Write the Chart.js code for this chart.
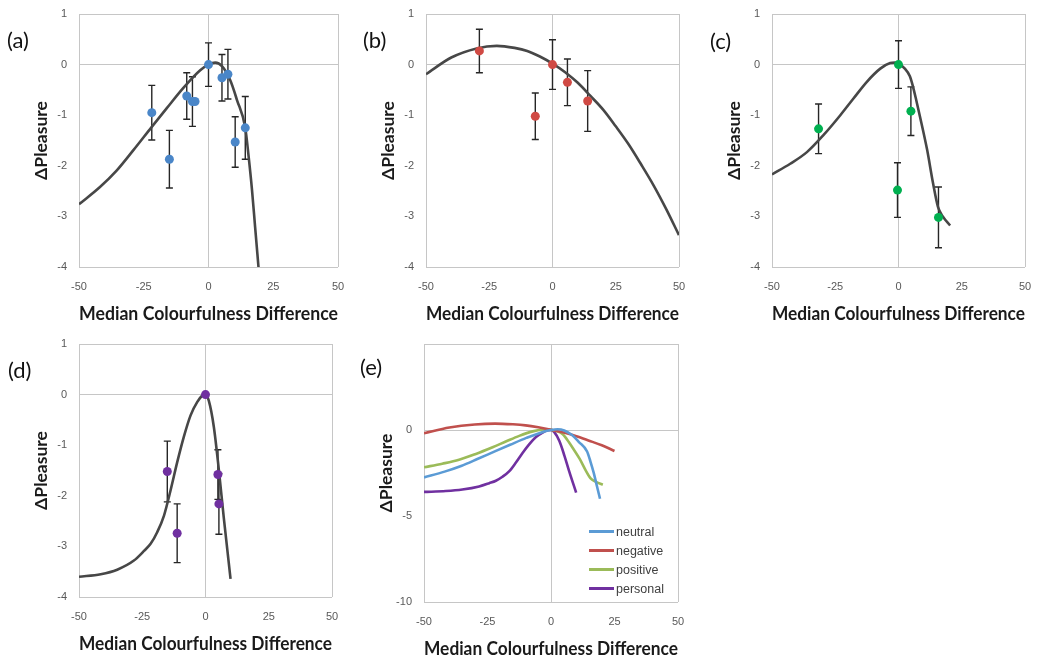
<!DOCTYPE html>
<html>
<head>
<meta charset="utf-8">
<script src="https://cdn.jsdelivr.net/npm/chart.js@4.4.1/dist/chart.umd.min.js"></script>
<style>
  html, body { margin: 0; padding: 0; background: #fff; }
  #wrap { position: relative; width: 1037px; height: 660px; overflow: hidden; background: #fff; }
  canvas { position: absolute; }
  .lab { position: absolute; font-family: 'Lato', 'Liberation Sans', sans-serif; font-size: 22px; line-height: 22px; color: #111; }
  .leg { position: absolute; font-family: 'Liberation Sans', sans-serif; font-size: 12.5px; line-height: 14px; color: #404040; white-space: nowrap; }
  .leg span.ln { display: inline-block; width: 25px; height: 2.5px; vertical-align: middle; margin-right: 2px; position: relative; top: -1px; }
</style>
</head>
<body>
<div id="wrap">
  <canvas id="ca" width="345" height="330" style="left:0px;top:0px"></canvas>
  <canvas id="cb" width="339" height="330" style="left:347px;top:0px"></canvas>
  <canvas id="cc" width="339" height="330" style="left:693px;top:0px"></canvas>
  <canvas id="cd" width="339" height="330" style="left:0px;top:330px"></canvas>
  <canvas id="ce" width="340" height="335" style="left:345px;top:330px"></canvas>
</div>
<script>
// ---------- text ----------
const panelLabels = ['(a)', '(b)', '(c)', '(d)', '(e)'];
const xTitle = 'Median Colourfulness Difference';
const yTitle = 'ΔPleasure';

// ---------- tick settings ----------
const xMin = -50, xMax = 50, xStep = 25;
const yMinSmall = -4, yMaxSmall = 1, yStepSmall = 1;
const yMinE = -10, yMaxE = 5, yStepE = 5;

// ---------- (a) neutral ----------
const aPointX = [-21.9, -15.1, -8.4, -6.2, -5.2, 0, 5.2, 7.5, 10.3, 14.2];
const aPointY = [-0.95, -1.87, -0.62, -0.73, -0.73, 0, -0.26, -0.19, -1.53, -1.25];
const aPointErr = [0.54, 0.57, 0.46, 0.49, 0, 0.43, 0.46, 0.49, 0.50, 0.62];
const aCurveX = [-50, -41.9, -35.4, -29, -21.9, -16.1, -9.7, -3.2, 0, 2.6, 5.2, 8.4, 11, 14.2, 15.5, 16.8, 18.0, 19.3];
const aCurveY = [-2.76, -2.42, -2.09, -1.69, -1.23, -0.86, -0.46, -0.11, 0, 0.04, -0.03, -0.31, -0.70, -1.25, -1.82, -2.48, -3.21, -4.0];

// ---------- (b) negative ----------
const bPointX = [-28.9, -6.8, 0, 5.9, 13.9];
const bPointY = [0.27, -1.02, 0, -0.35, -0.72];
const bPointErr = [0.43, 0.46, 0.49, 0.46, 0.60];
const bCurveX = [-50, -40, -30, -22, -15, -10, -5, 0, 5, 10, 15, 20, 25, 30, 35, 40, 45, 50];
const bCurveY = [-0.19, 0.14, 0.32, 0.37, 0.33, 0.27, 0.16, 0.02, -0.15, -0.36, -0.62, -0.89, -1.22, -1.57, -1.97, -2.39, -2.86, -3.37];

// ---------- (c) positive ----------
const cPointX = [-31.6, -0.4, 0, 4.9, 15.8];
const cPointY = [-1.27, -2.48, 0, -0.92, -3.02];
const cPointErr = [0.49, 0.54, 0.47, 0.48, 0.60];
const cCurveX = [-50, -42.8, -36.2, -29.6, -23, -17.8, -12.5, -7.2, -3.3, -1.4, 0, 2.5, 4.5, 5.7, 7, 8.5, 11.3, 13.6, 15.6, 17.5, 20.4];
const cCurveY = [-2.17, -1.96, -1.73, -1.39, -1.0, -0.67, -0.34, -0.08, 0.03, 0.04, 0.02, -0.08, -0.23, -0.43, -0.70, -1.03, -1.68, -2.33, -2.81, -3.00, -3.18];

// ---------- (d) personal ----------
const dPointX = [-15.1, -11.2, 0, 4.9, 5.3];
const dPointY = [-1.52, -2.74, 0, -1.58, -2.16];
const dPointErr = [0.60, 0.58, 0, 0.49, 0.60];
const dCurveX = [-50, -41.4, -34.9, -28.3, -24.3, -21.7, -19.1, -16.4, -13.8, -11.2, -8.6, -5.9, -3.3, -1.3, 0, 1.3, 3.3, 5.3, 7.2, 9.9];
const dCurveY = [-3.6, -3.55, -3.46, -3.28, -3.09, -2.95, -2.72, -2.39, -1.89, -1.34, -0.84, -0.41, -0.15, -0.02, 0, -0.12, -0.64, -1.5, -2.42, -3.64];

// ---------- (e) all models ----------
const eSeriesNames = ['neutral', 'negative', 'positive', 'personal'];
const eSeriesColors = ['#5b9bd5', '#c0504d', '#9bbb59', '#7030a0'];
const eNegativeMaxX = 25;

// ---------- colours ----------
const pointColors = ['#4a86c8', '#d04a44', '#00b050', '#7030a0'];
const curveColor = '#474747';

// ---------- helpers ----------
const zip = (xs, ys) => xs.map((x, i) => ({ x: x, y: ys[i] }));

const errorBars = {
  id: 'errorBars',
  beforeDatasetsDraw(chart) {
    const ctx = chart.ctx, xs = chart.scales.x, ys = chart.scales.y;
    chart.data.datasets.forEach(ds => {
      if (!ds.errors) return;
      ctx.save();
      ctx.strokeStyle = '#262626';
      ctx.lineWidth = 1.4;
      ds.data.forEach((p, i) => {
        const e = ds.errors[i];
        if (!e) return;
        const px = xs.getPixelForValue(p.x);
        const t = ys.getPixelForValue(p.y + e);
        const b = ys.getPixelForValue(p.y - e);
        ctx.beginPath();
        ctx.moveTo(px, t); ctx.lineTo(px, b);
        ctx.moveTo(px - 3.5, t); ctx.lineTo(px + 3.5, t);
        ctx.moveTo(px - 3.5, b); ctx.lineTo(px + 3.5, b);
        ctx.stroke();
      });
      ctx.restore();
    });
  }
};

function gridColor(min, max) {
  return (c) => {
    const v = c.tick ? c.tick.value : null;
    return (v === 0 || v === min || v === max) ? '#c6c6c6' : 'rgba(0,0,0,0)';
  };
}

function makeScales(yMin, yMax, yStep, hideTop) {
  return {
    x: {
      type: 'linear', min: xMin, max: xMax,
      ticks: { stepSize: xStep, padding: 0, color: '#595959', font: { family: 'Liberation Sans', size: 11 } },
      grid: { drawTicks: true, tickLength: 13, tickColor: 'rgba(0,0,0,0)', color: gridColor(xMin, xMax), lineWidth: 1 },
      border: { display: false },
      title: { display: true, text: xTitle, color: '#1a1a1a', font: { family: 'Lato', weight: 'bold', size: 18 }, padding: { top: 0, bottom: 5 } },
      afterFit(s) { s.height = 63; }
    },
    y: {
      type: 'linear', min: yMin, max: yMax,
      ticks: {
        stepSize: yStep, padding: 0, color: '#595959', font: { family: 'Liberation Sans', size: 11 },
        callback: (v) => (hideTop && v === yMax) ? '' : String(v)
      },
      grid: { drawTicks: true, tickLength: 12, tickColor: 'rgba(0,0,0,0)', color: gridColor(yMin, yMax), lineWidth: 1 },
      border: { display: false },
      title: { display: true, text: yTitle, color: '#1a1a1a', font: { family: 'Lato', weight: 'bold', size: 17.5 }, padding: { top: 31, bottom: 0 } },
      afterFit(s) { s.width = 79; }
    }
  };
}

function baseOptions(yMin, yMax, yStep, hideTop) {
  return {
    responsive: false, animation: false, devicePixelRatio: 1,
    layout: { padding: { left: 0, right: 7, top: 14, bottom: 0 } },
    plugins: { legend: { display: false }, tooltip: { enabled: false } },
    scales: makeScales(yMin, yMax, yStep, hideTop)
  };
}

function curveDataset(xs, ys, color, label) {
  return {
    label: label || 'model', data: zip(xs, ys), showLine: true,
    borderColor: color, borderWidth: 2.6, pointRadius: 0,
    cubicInterpolationMode: 'monotone', fill: false
  };
}

function pointDataset(xs, ys, errs, color) {
  return {
    label: 'data', data: zip(xs, ys), errors: errs, showLine: false,
    pointRadius: 4.5, pointBackgroundColor: color, pointBorderWidth: 0, pointBorderColor: color
  };
}

function panel(id, px, py, pe, cx, cy, color) {
  new Chart(document.getElementById(id), {
    type: 'scatter',
    data: { datasets: [pointDataset(px, py, pe, color), curveDataset(cx, cy, curveColor)] },
    options: baseOptions(yMinSmall, yMaxSmall, yStepSmall, false),
    plugins: [errorBars]
  });
}

panel('ca', aPointX, aPointY, aPointErr, aCurveX, aCurveY, pointColors[0]);
panel('cb', bPointX, bPointY, bPointErr, bCurveX, bCurveY, pointColors[1]);
panel('cc', cPointX, cPointY, cPointErr, cCurveX, cCurveY, pointColors[2]);
panel('cd', dPointX, dPointY, dPointErr, dCurveX, dCurveY, pointColors[3]);

// (e)
const negIdx = bCurveX.filter(x => x <= eNegativeMaxX).length;
const eCurves = [
  [aCurveX, aCurveY],
  [bCurveX.slice(0, negIdx), bCurveY.slice(0, negIdx)],
  [cCurveX, cCurveY],
  [dCurveX, dCurveY]
];
new Chart(document.getElementById('ce'), {
  type: 'scatter',
  data: { datasets: eCurves.map((c, i) => curveDataset(c[0], c[1], eSeriesColors[i], eSeriesNames[i])) },
  options: baseOptions(yMinE, yMaxE, yStepE, true)
});

// panel labels
const wrap = document.getElementById('wrap');
const labelPos = [[7, 29], [363, 29], [710, 30], [8, 359], [360, 356]];
panelLabels.forEach((t, i) => {
  const d = document.createElement('div');
  d.className = 'lab';
  d.style.left = labelPos[i][0] + 'px';
  d.style.top = labelPos[i][1] + 'px';
  d.textContent = t;
  wrap.appendChild(d);
});

// legend for (e)
eSeriesNames.forEach((n, i) => {
  const d = document.createElement('div');
  d.className = 'leg';
  d.style.left = '589px';
  d.style.top = (525 + i * 19) + 'px';
  const s = document.createElement('span');
  s.className = 'ln';
  s.style.background = eSeriesColors[i];
  d.appendChild(s);
  d.appendChild(document.createTextNode(n));
  wrap.appendChild(d);
});
</script>
</body>
</html>
